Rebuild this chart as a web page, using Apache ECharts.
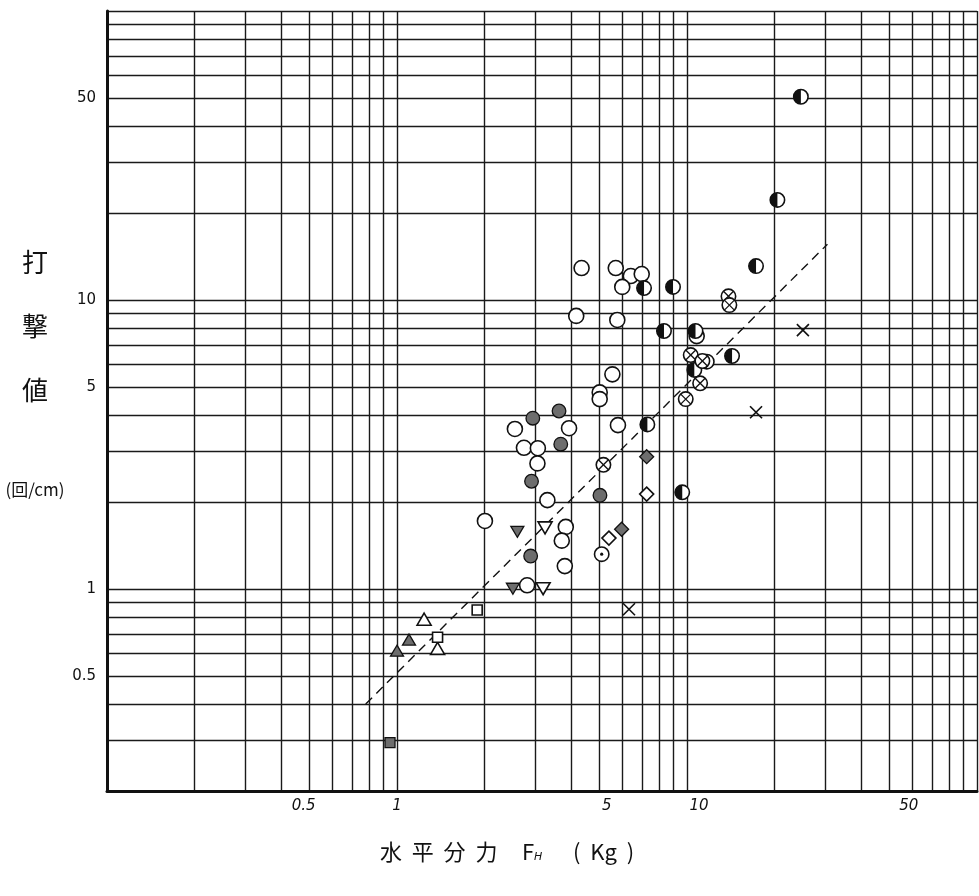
<!DOCTYPE html>
<html>
<head>
<meta charset="utf-8">
<script src="https://cdn.jsdelivr.net/npm/echarts@6/dist/echarts.min.js"></script>
<style>
  html, body { margin: 0; padding: 0; background: #fff; }
  #chart { width: 979px; height: 896px; }
</style>
</head>
<body>
<div id="chart"></div>
<script>
// Log-log paper rulings
const xGridValues = [0.1, 0.2, 0.3, 0.4, 0.5, 0.6, 0.7, 0.8, 0.9,
                     1, 2, 3, 4, 5, 6, 7, 8, 9,
                     10, 20, 30, 40, 50, 60, 70, 80, 90, 100];
const yGridValues = [0.2, 0.3, 0.4, 0.5, 0.6, 0.7, 0.8, 0.9,
                     1, 2, 3, 4, 5, 6, 7, 8, 9,
                     10, 20, 30, 40, 50, 60, 70, 80, 90, 100];
const xTickLabels = [0.5, 1, 5, 10, 50];
const yTickLabels = [0.5, 1, 5, 10, 50];

// Measurements: [horizontal force F_H (kg), blow count (per cm)]
const openCircle = [
  [4.33, 12.9], [5.68, 12.9], [6.40, 12.1], [6.98, 12.3], [5.98, 11.1],
  [4.15, 8.81], [5.75, 8.53], [10.8, 7.50], [5.53, 5.53], [5.0, 4.79],
  [5.0, 4.54], [2.55, 3.58], [3.92, 3.60], [5.78, 3.69], [2.74, 3.08],
  [3.06, 3.07], [3.05, 2.72], [3.30, 2.03], [2.01, 1.72], [3.82, 1.64],
  [3.70, 1.47], [3.79, 1.20], [2.81, 1.03]
];
const shadedCircle = [
  [3.62, 4.13], [2.94, 3.90], [3.67, 3.17], [2.91, 2.36], [5.01, 2.11], [2.89, 1.30]
];
const halfCircle = [
  [24.7, 50.5], [20.5, 22.2], [17.3, 13.1], [8.95, 11.1], [7.11, 11.0],
  [8.33, 7.81], [10.7, 7.81], [14.3, 6.40], [11.7, 6.12], [10.6, 5.73],
  [7.30, 3.71], [9.63, 2.16]
];
const crossCircle = [
  [13.9, 10.3], [14.0, 9.6], [10.3, 6.45], [11.3, 6.15], [11.1, 5.15],
  [9.90, 4.54], [5.15, 2.69]
];
const dotCircle = [[5.08, 1.32]];
const openTriDown = [[3.24, 1.64], [3.19, 1.01]];
const shadedTriDown = [[2.60, 1.59], [2.51, 1.01]];
const openTriUp = [[1.24, 0.78], [1.38, 0.618]];
const shadedTriUp = [[1.10, 0.663], [1.00, 0.607]];
const openSquare = [[1.89, 0.846], [1.38, 0.681]];
const shadedSquare = [[0.946, 0.294]];
const openDiamond = [[7.26, 2.13], [5.38, 1.50]];
const shadedDiamond = [[7.26, 2.87], [5.95, 1.61]];
const crossMark = [[25.1, 7.87], [17.3, 4.09], [6.31, 0.851]];

// Trend line (dashed)
const trendLine = [[0.78, 0.40], [30.5, 15.6]];

const INK = '#111';
const SHADE = '#6d6d6d';
const open = { fill: '#fff', stroke: INK, lineWidth: 1.6 };
const shaded = { fill: SHADE, stroke: INK, lineWidth: 1.3 };

const shapes = {
  openCircle: () => [{ type: 'circle', shape: { cx: 0, cy: 0, r: 7.5 }, style: open }],
  shadedCircle: () => [{ type: 'circle', shape: { cx: 0, cy: 0, r: 6.8 }, style: shaded }],
  halfCircle: () => [
    { type: 'circle', shape: { cx: 0, cy: 0, r: 7.2 }, style: open },
    { type: 'sector', shape: { cx: 0, cy: 0, r0: 0, r: 7.2, startAngle: Math.PI / 2, endAngle: Math.PI * 1.5 }, style: { fill: INK } }
  ],
  crossCircle: () => [
    { type: 'circle', shape: { cx: 0, cy: 0, r: 7.2 }, style: open },
    { type: 'line', shape: { x1: -5, y1: -5, x2: 5, y2: 5 }, style: { stroke: INK, lineWidth: 1.3 } },
    { type: 'line', shape: { x1: 5, y1: -5, x2: -5, y2: 5 }, style: { stroke: INK, lineWidth: 1.3 } }
  ],
  dotCircle: () => [
    { type: 'circle', shape: { cx: 0, cy: 0, r: 7.2 }, style: open },
    { type: 'circle', shape: { cx: 0, cy: 0, r: 1.6 }, style: { fill: INK } }
  ],
  openTriUp: () => [{ type: 'polygon', shape: { points: [[0, -7], [7, 5], [-7, 5]] }, style: open }],
  shadedTriUp: () => [{ type: 'polygon', shape: { points: [[0, -6.5], [6.5, 4.5], [-6.5, 4.5]] }, style: shaded }],
  openTriDown: () => [{ type: 'polygon', shape: { points: [[0, 7], [7, -5], [-7, -5]] }, style: open }],
  shadedTriDown: () => [{ type: 'polygon', shape: { points: [[0, 6.5], [6.5, -4.5], [-6.5, -4.5]] }, style: shaded }],
  openSquare: () => [{ type: 'rect', shape: { x: -5, y: -5, width: 10, height: 10 }, style: open }],
  shadedSquare: () => [{ type: 'rect', shape: { x: -5, y: -5, width: 10, height: 10 }, style: shaded }],
  openDiamond: () => [{ type: 'polygon', shape: { points: [[0, -7], [7, 0], [0, 7], [-7, 0]] }, style: open }],
  shadedDiamond: () => [{ type: 'polygon', shape: { points: [[0, -7], [7, 0], [0, 7], [-7, 0]] }, style: shaded }],
  crossMark: () => [
    { type: 'line', shape: { x1: -6, y1: -6, x2: 6, y2: 6 }, style: { stroke: INK, lineWidth: 1.6 } },
    { type: 'line', shape: { x1: 6, y1: -6, x2: -6, y2: 6 }, style: { stroke: INK, lineWidth: 1.6 } }
  ]
};

function markerSeries(name, data) {
  return {
    type: 'custom',
    name: name,
    coordinateSystem: 'cartesian2d',
    data: data,
    encode: { x: 0, y: 1 },
    z: 5,
    renderItem: function (params, api) {
      const p = api.coord([api.value(0), api.value(1)]);
      return { type: 'group', x: p[0], y: p[1], children: shapes[name]() };
    }
  };
}

const gridLine = { show: true, lineStyle: { color: '#1a1a1a', width: 1.4 } };

// The hand-lettered x labels sit a little off their rulings
const xLabelStyle = { fontFamily: 'DejaVu Sans', fontStyle: 'italic', fontSize: 15, color: INK };
const xLabelRich = {
  a: Object.assign({ padding: [0, 12, 0, 0] }, xLabelStyle),
  b: Object.assign({}, xLabelStyle),
  c: Object.assign({ padding: [0, 0, 0, 14] }, xLabelStyle),
  d: Object.assign({ padding: [0, 0, 0, 24] }, xLabelStyle),
  e: Object.assign({ padding: [0, 0, 0, 38] }, xLabelStyle)
};
const xLabelKeys = ['a', 'b', 'c', 'd', 'e'];

const chart = echarts.init(document.getElementById('chart'), null, { renderer: 'canvas' });
chart.setOption({
  backgroundColor: '#fff',
  animation: false,
  grid: { left: 107, right: 2, top: 11, bottom: 105, containLabel: false },
  xAxis: {
    type: 'log',
    logBase: 10,
    min: 0.1,
    max: 100,
    axisLine: { show: true, onZero: false, lineStyle: { color: INK, width: 3 } },
    axisTick: { show: false, customValues: xGridValues },
    splitLine: gridLine,
    minorSplitLine: { show: false },
    axisLabel: {
      customValues: xTickLabels,
      formatter: function (v) {
        const i = xTickLabels.indexOf(+v);
        const key = xLabelKeys[i] || 'b';
        return '{' + key + '|' + v + '}';
      },
      rich: xLabelRich,
      margin: 8
    },
    name: '{t|水  平  分  力}{g|    }{t|F}{s|H}{g|     }{t|(  Kg  )}',
    nameLocation: 'middle',
    nameGap: 50,
    nameTextStyle: {
      padding: [0, 70, 0, 0],
      rich: {
        t: { fontFamily: 'Noto Sans CJK JP', fontSize: 22, color: INK },
        g: { fontSize: 22 },
        s: { fontFamily: 'DejaVu Sans', fontStyle: 'italic', fontSize: 11, color: INK, padding: [10, 0, 0, 0] }
      }
    }
  },
  yAxis: {
    type: 'log',
    logBase: 10,
    min: 0.2,
    max: 100,
    axisLine: { show: true, onZero: false, lineStyle: { color: INK, width: 3 } },
    axisTick: { show: false, customValues: yGridValues },
    splitLine: gridLine,
    minorSplitLine: { show: false },
    axisLabel: {
      customValues: yTickLabels,
      formatter: function (v) { return String(v); },
      color: INK,
      fontFamily: 'DejaVu Sans',
      fontSize: 15,
      margin: 11
    },
    name: '{c|打}\n{c|撃}\n{c|値}\n{p|(回/cm)}',
    nameLocation: 'middle',
    nameRotate: 0,
    nameGap: 72,
    nameTextStyle: {
      align: 'center',
      verticalAlign: 'middle',
      padding: [0, 0, 14, 0],
      rich: {
        c: { fontFamily: 'Noto Sans CJK JP', fontSize: 26, lineHeight: 64, color: INK, align: 'center' },
        p: { fontFamily: 'Noto Sans CJK JP', fontSize: 17, lineHeight: 136, color: INK, align: 'center' }
      }
    }
  },
  series: [
    {
      type: 'line',
      data: trendLine,
      symbol: 'none',
      z: 3,
      lineStyle: { color: INK, width: 1.4, type: [9, 6] }
    },
    markerSeries('openCircle', openCircle),
    markerSeries('shadedCircle', shadedCircle),
    markerSeries('halfCircle', halfCircle),
    markerSeries('crossCircle', crossCircle),
    markerSeries('dotCircle', dotCircle),
    markerSeries('openTriDown', openTriDown),
    markerSeries('shadedTriDown', shadedTriDown),
    markerSeries('openTriUp', openTriUp),
    markerSeries('shadedTriUp', shadedTriUp),
    markerSeries('openSquare', openSquare),
    markerSeries('shadedSquare', shadedSquare),
    markerSeries('openDiamond', openDiamond),
    markerSeries('shadedDiamond', shadedDiamond),
    markerSeries('crossMark', crossMark)
  ]
});
</script>
</body>
</html>
